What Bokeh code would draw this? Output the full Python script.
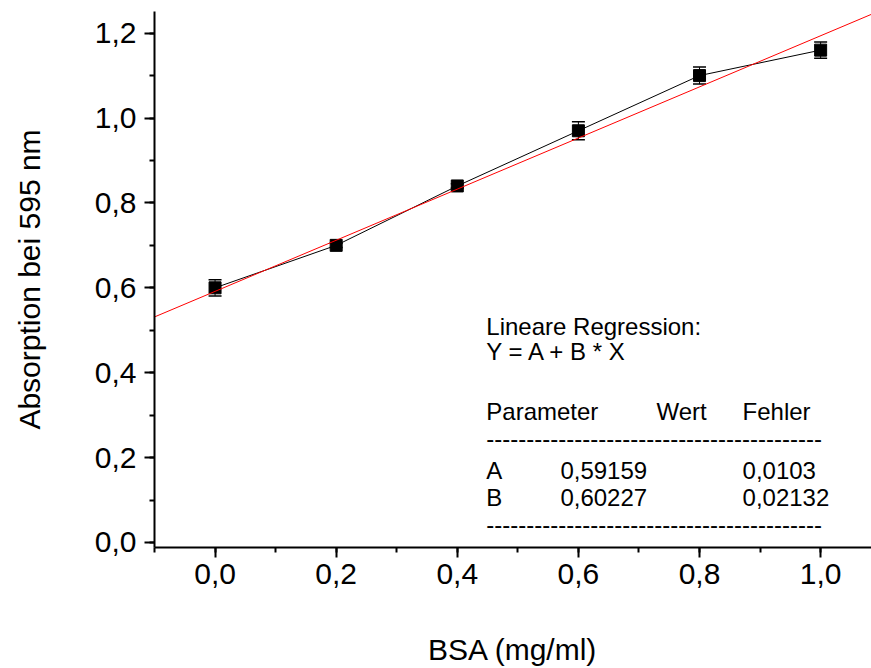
from bokeh.plotting import figure
from bokeh.models import (SingleIntervalTicker, CustomJSTickFormatter, Whisker, TeeHead,
                          ColumnDataSource, Label)
from bokeh.embed import file_html
from bokeh.resources import INLINE

# ---- data ----
bsa = [0.0, 0.2, 0.4, 0.6, 0.8, 1.0]
absorption = [0.60, 0.70, 0.84, 0.97, 1.10, 1.16]
err = [0.019, 0.005, 0.005, 0.021, 0.020, 0.019]
fit_A = 0.59159
fit_B = 0.60227
fit_x = [-0.1, 1.09]

x_ticks_interval = 0.2
y_ticks_interval = 0.2

FONT = "Liberation Sans"

p = figure(width=871, height=668, x_range=(-0.1, 1.084), y_range=(-0.0118, 1.251),
           output_backend="svg", toolbar_location=None,
           min_border_left=154, min_border_right=0, min_border_top=11, min_border_bottom=121)
p.outline_line_color = None
p.grid.visible = False
p.background_fill_color = "white"
p.border_fill_color = "white"

fmt = CustomJSTickFormatter(code="return tick.toFixed(1).replace('.', ',');")
p.xaxis.ticker = SingleIntervalTicker(interval=x_ticks_interval, num_minor_ticks=2)
p.yaxis.ticker = SingleIntervalTicker(interval=y_ticks_interval, num_minor_ticks=2)
for ax in (p.xaxis, p.yaxis):
    ax.formatter = fmt
    ax.axis_line_width = 2
    ax.major_tick_line_width = 2
    ax.minor_tick_line_width = 2
    ax.major_tick_out = 10
    ax.major_tick_in = 0
    ax.minor_tick_out = 5
    ax.minor_tick_in = 0
    ax.major_label_text_font = FONT
    ax.major_label_text_font_size = "30px"
    ax.major_label_text_color = "black"
    ax.axis_label_text_font = FONT
    ax.axis_label_text_font_size = "30px"
    ax.axis_label_text_font_style = "normal"
    ax.axis_label_text_color = "black"
    ax.axis_line_color = "black"
    ax.major_tick_line_color = "black"
    ax.minor_tick_line_color = "black"

p.xaxis.axis_label = "BSA (mg/ml)"
p.yaxis.axis_label = "Absorption bei 595 nm"
p.xaxis.major_label_standoff = 6
p.yaxis.major_label_standoff = 8
p.xaxis.axis_label_standoff = 46
p.yaxis.axis_label_standoff = 46

src = ColumnDataSource(dict(x=bsa, y=absorption,
                            lo=[a - e for a, e in zip(absorption, err)],
                            hi=[a + e for a, e in zip(absorption, err)]))

p.line("x", "y", source=src, line_color="black", line_width=1)
p.add_layout(Whisker(source=src, base="x", lower="lo", upper="hi", line_color="black",
                     line_width=1,
                     upper_head=TeeHead(size=13, line_color="black", line_width=1.5),
                     lower_head=TeeHead(size=13, line_color="black", line_width=1.5)))
p.scatter("x", "y", source=src, marker="square", size=12, fill_color="black",
          line_color="black")

fit_y = [fit_A + fit_B * x for x in fit_x]
p.line(fit_x, fit_y, line_color="red", line_width=1)

# ---- annotation text ----
def px2x(px):
    return (px - 215) / 605.0

def py2y(py):
    return (541.7 - py) / 424.2

ann_font = "24px"
dashes = "-" * 42
rows = [
    (486, 326, "Lineare Regression:"),
    (486, 351, "Y = A + B * X"),
    (486, 411, "Parameter"),
    (656, 411, "Wert"),
    (742, 411, "Fehler"),
    (486, 438, dashes),
    (486, 470, "A"),
    (560, 470, "0,59159"),
    (742, 470, "0,0103"),
    (486, 497, "B"),
    (560, 497, "0,60227"),
    (742, 497, "0,02132"),
    (486, 524, dashes),
]
for px, py, t in rows:
    p.add_layout(Label(x=px2x(px), y=py2y(py), text=t, text_font=FONT,
                       text_font_size=ann_font, text_baseline="alphabetic",
                       text_align="left", text_color="black"))

open("out.html", "w").write(file_html(p, INLINE))
